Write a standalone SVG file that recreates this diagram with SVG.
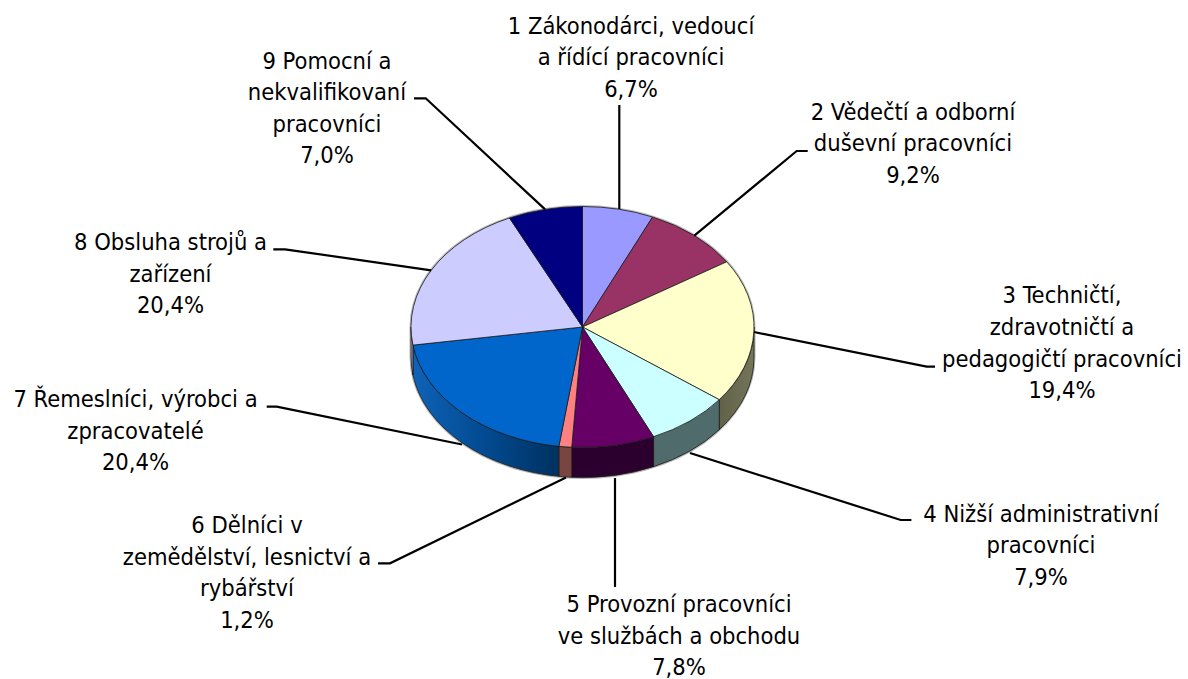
<svg xmlns="http://www.w3.org/2000/svg" width="1188" height="679" viewBox="0 0 1188 679">
<defs>
<style>
.lbl{font-family:"DejaVu Sans Condensed","DejaVu Sans","Liberation Sans",sans-serif;font-stretch:condensed;font-size:23.5px;fill:#000;text-anchor:middle}
.top{stroke:#1a1a1a;stroke-width:0.8;stroke-linejoin:round}
.side{stroke:#1a1a1a;stroke-width:0.8;stroke-linejoin:round}
.lead{fill:none;stroke:#000;stroke-width:2.2;stroke-linejoin:miter}
</style>
<linearGradient id="g7" gradientUnits="userSpaceOnUse" x1="411" y1="0" x2="560" y2="0">
<stop offset="0" stop-color="#0f63b8"/>
<stop offset="0.5" stop-color="#024a90"/>
<stop offset="1" stop-color="#00315f"/>
</linearGradient>
<linearGradient id="g3" gradientUnits="userSpaceOnUse" x1="719" y1="0" x2="754" y2="0">
<stop offset="0" stop-color="#616148"/>
<stop offset="1" stop-color="#75755a"/>
</linearGradient>
</defs>
<rect width="1188" height="679" fill="#fff"/>

<path d="M411,327 A171.5,120.5 0 0 1 754,327 L754,357 A171.5,120.5 0 0 1 411,357 Z" fill="none" stroke="#9a9a9a" stroke-width="3" opacity="0.7"/>

<g id="slice-1">
<path class="top" fill="#9999FF" d="M582.5,327 L582.5,206.5 A171.5,120.5 0 0 1 652.58,217.02 Z"/>
</g>
<g id="slice-2">
<path class="top" fill="#993366" d="M582.5,327 L652.58,217.02 A171.5,120.5 0 0 1 726.74,261.81 Z"/>
</g>
<g id="slice-3">
<path class="side" fill="url(#g3)" d="M754,327 A171.5,120.5 0 0 1 719.28,399.69 L719.28,429.69 A171.5,120.5 0 0 0 754,357 Z"/>
<path class="top" fill="#FFFFCC" d="M582.5,327 L726.74,261.81 A171.5,120.5 0 0 1 719.28,399.69 Z"/>
</g>
<g id="slice-4">
<path class="side" fill="#4f6b6b" d="M719.28,399.69 A171.5,120.5 0 0 1 653.56,436.67 L653.56,466.67 A171.5,120.5 0 0 0 719.28,429.69 Z"/>
<path class="top" fill="#CCFFFF" d="M582.5,327 L719.28,399.69 A171.5,120.5 0 0 1 653.56,436.67 Z"/>
</g>
<g id="slice-5">
<path class="side" fill="#2c002e" d="M653.56,436.67 A171.5,120.5 0 0 1 571.73,447.26 L571.73,477.26 A171.5,120.5 0 0 0 653.56,466.67 Z"/>
<path class="top" fill="#660066" d="M582.5,327 L653.56,436.67 A171.5,120.5 0 0 1 571.73,447.26 Z"/>
</g>
<g id="slice-6">
<path class="side" fill="#7a4540" d="M571.73,447.26 A171.5,120.5 0 0 1 558.87,446.35 L558.87,476.35 A171.5,120.5 0 0 0 571.73,477.26 Z"/>
<path class="top" fill="#FF8080" d="M582.5,327 L571.73,447.26 A171.5,120.5 0 0 1 558.87,446.35 Z"/>
</g>
<g id="slice-7">
<path class="side" fill="url(#g7)" d="M558.87,446.35 A171.5,120.5 0 0 1 412.95,345.10 L412.95,375.10 A171.5,120.5 0 0 0 558.87,476.35 Z"/>
<path class="top" fill="#0066CC" d="M582.5,327 L558.87,446.35 A171.5,120.5 0 0 1 412.95,345.10 Z"/>
</g>
<g id="slice-8">
<path class="side" fill="#9a9ac4" d="M412.95,345.10 A171.5,120.5 0 0 1 411,327 L411,357 A171.5,120.5 0 0 0 412.95,375.10 Z"/>
<path class="top" fill="#CCCCFF" d="M582.5,327 L412.95,345.10 A171.5,120.5 0 0 1 509.48,217.97 Z"/>
</g>
<g id="slice-9">
<path class="top" fill="#000080" d="M582.5,327 L509.48,217.97 A171.5,120.5 0 0 1 582.5,206.5 Z"/>
</g>

<g id="connectors">
<polyline class="lead" points="619.3,105 619.3,209"/>
<polyline class="lead" points="807.7,151 796.7,151 694.3,235.7"/>
<polyline class="lead" points="754,332 926.7,366.7 935,366.7"/>
<polyline class="lead" points="690,453 900.7,520 911.4,520"/>
<polyline class="lead" points="615,478 615,587"/>
<polyline class="lead" points="378,563.3 390,563.3 566,477.5"/>
<polyline class="lead" points="266.7,406.7 276.7,406.7 462,444.5"/>
<polyline class="lead" points="273.3,249.3 285,249.3 431.2,270.3"/>
<polyline class="lead" points="414,98.3 425.7,98.3 545.1,209.4"/>
</g>

<g id="label-1">
<text class="lbl" x="631" y="33.5">1 Zákonodárci, vedoucí</text>
<text class="lbl" x="631" y="65.2">a řídící pracovníci</text>
<text class="lbl" x="631" y="96.9">6,7%</text>
</g>
<g id="label-2">
<text class="lbl" x="913" y="119.5">2 Vědečtí a odborní</text>
<text class="lbl" x="913" y="151.2">duševní pracovníci</text>
<text class="lbl" x="913" y="183">9,2%</text>
</g>
<g id="label-3">
<text class="lbl" x="1062" y="303">3 Techničtí,</text>
<text class="lbl" x="1062" y="335">zdravotničtí a</text>
<text class="lbl" x="1062" y="366.5">pedagogičtí pracovníci</text>
<text class="lbl" x="1062" y="398">19,4%</text>
</g>
<g id="label-4">
<text class="lbl" x="1041" y="521.5">4 Nižší administrativní</text>
<text class="lbl" x="1041" y="553">pracovníci</text>
<text class="lbl" x="1041" y="584.5">7,9%</text>
</g>
<g id="label-5">
<text class="lbl" x="679" y="612">5 Provozní pracovníci</text>
<text class="lbl" x="679" y="643.5">ve službách a obchodu</text>
<text class="lbl" x="679" y="674.5">7,8%</text>
</g>
<g id="label-6">
<text class="lbl" x="247" y="533">6 Dělníci v</text>
<text class="lbl" x="247" y="564.5">zemědělství, lesnictví a</text>
<text class="lbl" x="247" y="596">rybářství</text>
<text class="lbl" x="247" y="627.5">1,2%</text>
</g>
<g id="label-7">
<text class="lbl" x="135.5" y="407">7 Řemeslníci, výrobci a</text>
<text class="lbl" x="135.5" y="438.5">zpracovatelé</text>
<text class="lbl" x="135.5" y="470">20,4%</text>
</g>
<g id="label-8">
<text class="lbl" x="170.5" y="250">8 Obsluha strojů a</text>
<text class="lbl" x="170.5" y="281.5">zařízení</text>
<text class="lbl" x="170.5" y="313">20,4%</text>
</g>
<g id="label-9">
<text class="lbl" x="327" y="68.5">9 Pomocní a</text>
<text class="lbl" x="327" y="100">nekvalifikovaní</text>
<text class="lbl" x="327" y="131.5">pracovníci</text>
<text class="lbl" x="327" y="163">7,0%</text>
</g>
</svg>
